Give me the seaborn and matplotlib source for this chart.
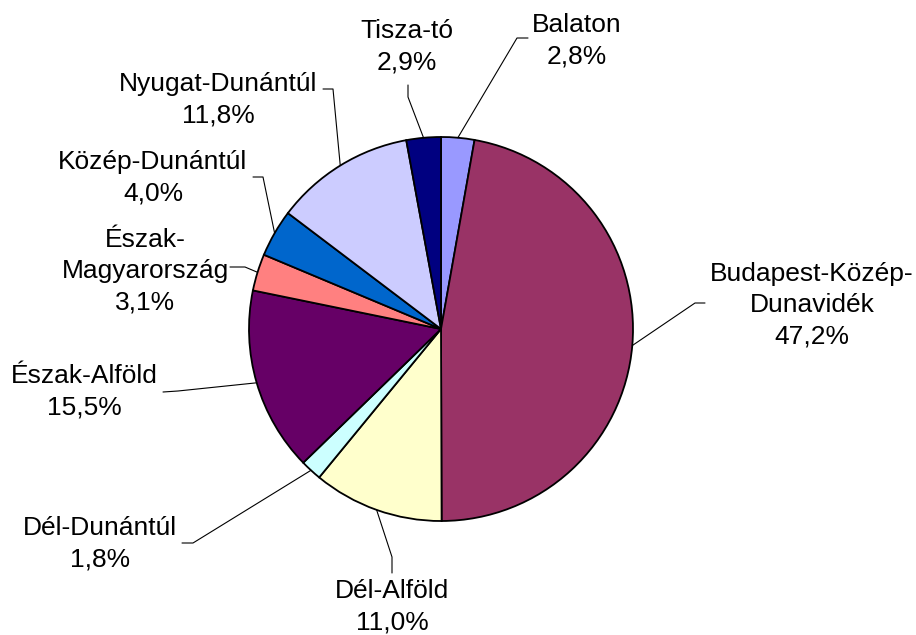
import numpy as np
import matplotlib
matplotlib.use("Agg")
import matplotlib.pyplot as plt
import seaborn as sns

regions = ["Balaton", "Budapest-Közép-\nDunavidék", "Dél-Alföld", "Dél-Dunántúl",
           "Észak-Alföld", "Észak-\nMagyarország", "Közép-Dunántúl",
           "Nyugat-Dunántúl", "Tisza-tó"]
shares = [2.8, 47.2, 11.0, 1.8, 15.5, 3.1, 4.0, 11.8, 2.9]
colors = ["#9999FF", "#993366", "#FFFFCC", "#CCFFFF", "#660066",
          "#FF8080", "#0066CC", "#CCCCFF", "#000080"]

# layout in pixel coords (y measured from top): label centre, leader elbow points
W, H = 916, 635
label_pos = [(577, 41), (812, 305), (392, 607), (100, 544), (84, 392),
             (145, 271), (153, 178), (218, 100), (407, 47)]
elbows = [[(517, 38), (528, 38)], [(695, 303), (705, 303)], [(392, 557), (392, 573)],
          [(193, 543), (182, 543)], [(178, 391), (163, 392)], [(245, 267), (230, 267)],
          [(263, 177), (253, 177)], [(333, 89), (323, 89)], [(408, 97), (408, 85)]]
center_px = (441, 329)
radius = 192

sns.set_theme(style="white")
plt.rcParams["font.family"] = ["Liberation Sans", "DejaVu Sans"]

fig = plt.figure(figsize=(9.16, 6.35), dpi=100)
ax = fig.add_axes([0, 0, 1, 1])
ax.set_xlim(0, W)
ax.set_ylim(0, H)
ax.set_aspect("equal")
ax.axis("off")

cx, cy = center_px[0], H - center_px[1]
wedges, _ = ax.pie(shares, colors=sns.color_palette(colors), startangle=90,
                   counterclock=False, center=(cx, cy), radius=radius,
                   wedgeprops=dict(edgecolor="black", linewidth=1.3))
ax.set_xlim(0, W)
ax.set_ylim(0, H)

for w, name, val, (lx, ly), pts in zip(wedges, regions, shares, label_pos, elbows):
    mid = np.deg2rad((w.theta1 + w.theta2) / 2)
    ex, ey = cx + radius * np.cos(mid), cy + radius * np.sin(mid)
    xs = [ex] + [p[0] for p in pts]
    ys = [ey] + [H - p[1] for p in pts]
    ax.plot(xs, ys, color="black", lw=0.8)
    txt = f"{name}\n{val:.1f}%".replace(".", ",")
    ax.text(lx, H - ly, txt, ha="center", va="center", fontsize=19,
            linespacing=1.38, color="black")

fig.savefig("out.png", dpi=100, facecolor="white")
